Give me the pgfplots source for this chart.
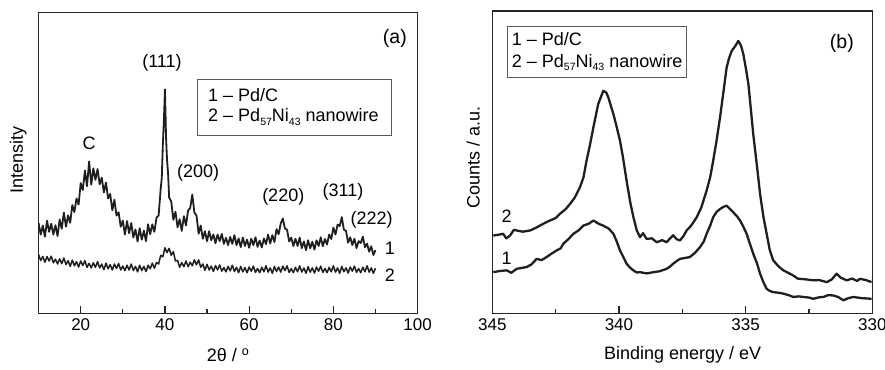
\documentclass[border=0pt]{standalone}
\usepackage{fontspec}
\setmainfont{Liberation Sans}
\usepackage{pgfplots}
\pgfplotsset{compat=1.18}
\newcommand\lab{\fontsize{18}{21}\selectfont}
\newcommand\tck{\fontsize{17}{20}\selectfont}
\newcommand\pan{\fontsize{19.5}{22}\selectfont}
\newcommand\sub[1]{\raisebox{-3.2pt}{\fontsize{10.5}{11}\selectfont #1}}
\pgfplotsset{
  panel/.style={
    scale only axis, anchor=south west,
    axis line style={line width=1.5pt, black!85},
    xtick pos=bottom, ytick=\empty, tick align=inside,
    major tick length=7pt, minor tick length=4.5pt,
    tick style={line width=1.3pt, black!85},
    minor x tick num=1, ymin=0, ymax=100,
    /pgf/number format/assume math mode=true,
    xticklabel style={font=\tck, yshift=-2pt},
    label style={font=\lab},
  }
}
\begin{document}
\begin{tikzpicture}
\path[use as bounding box] (0,0) rectangle (885pt,369pt);
% ---------------- (a) XRD
\begin{axis}[panel, at={(38.6pt,55.7pt)}, width=379pt, height=300.6pt,
  xmin=10, xmax=100, xtick={20,40,60,80,100},
  xlabel={2θ / \textsuperscript{o}}, ylabel={Intensity},
  xlabel style={at={(axis description cs:0.5,-0.139)}, anchor=center},
  ylabel style={at={(axis description cs:-0.0535,0.51)}, anchor=center}]
\addplot[black!88, line width=1.8pt, line join=round] table {
10.0 30.0
10.5 26.2
11.0 29.2
11.5 25.5
12.0 30.8
12.5 27.1
13.0 29.8
13.5 26.2
14.0 29.3
14.5 25.7
15.0 31.2
15.5 28.1
16.0 33.5
16.5 28.8
17.0 32.6
17.5 30.1
18.0 36.0
18.5 33.7
19.0 38.2
19.5 36.2
20.0 43.3
20.5 41.0
21.0 47.5
21.5 42.3
22.0 50.5
22.5 42.8
23.0 48.2
23.5 44.4
24.0 48.0
24.5 42.9
25.0 45.1
25.5 40.2
26.0 43.5
26.5 38.2
27.0 39.7
27.5 34.3
28.0 37.8
28.5 32.5
29.0 33.6
29.5 28.8
30.0 30.8
30.5 26.2
31.0 30.7
31.5 26.6
32.0 30.0
32.5 25.2
33.0 27.9
33.5 23.9
34.0 28.3
34.5 24.5
35.0 27.5
35.5 24.0
36.0 29.6
36.5 26.3
37.0 29.6
37.5 27.1
38.0 31.8
38.5 32.5
39.0 41.5
39.25 45
39.5 56
39.75 64
40.0 74.5
40.15 66
40.25 59
40.5 51
40.75 46.5
41.0 38.5
41.5 37.2
42.0 31.1
42.5 33.8
43.0 28.6
43.5 31.3
44.0 27.4
44.5 32.3
45.0 29.2
45.5 34.2
46.0 35.0
46.5 39.5
47.0 33.5
47.5 32.5
48.0 26.5
48.5 29.2
49.0 24.8
49.5 27.3
50.0 24.0
50.5 27.3
51.0 24.3
51.5 26.2
52.0 23.3
52.5 26.2
53.0 24.0
53.5 26.4
54.0 23.1
54.5 25.1
55.0 22.7
55.5 25.4
56.0 23.1
56.5 26.0
57.0 22.7
57.5 24.9
58.0 22.0
58.5 25.2
59.0 22.4
59.5 24.5
60.0 21.8
60.5 24.8
61.0 22.7
61.5 25.3
62.0 22.1
62.5 24.2
63.0 21.9
63.5 24.9
64.0 23.0
64.5 26.2
65.0 23.2
65.5 26.0
66.0 23.7
66.5 28.0
67.0 26.3
67.5 29.9
68.0 31.5
68.5 28.2
69.0 27.8
69.5 23.9
70.0 25.2
70.5 22.4
71.0 24.8
71.5 22.4
72.0 25.2
72.5 21.7
73.0 23.9
73.5 21.0
74.0 24.3
74.5 21.6
75.0 23.8
75.5 21.2
76.0 24.3
76.5 22.4
77.0 25.3
77.5 22.3
78.0 24.7
78.5 22.9
79.0 26.2
79.5 24.7
80.0 28.5
80.5 26.2
81.0 29.5
81.5 29.0
82.0 32.0
82.5 27.8
83.0 27.4
83.5 23.5
84.0 25.3
84.5 22.7
85.0 24.8
85.5 21.7
86.0 24.0
86.5 23.4
87.0 25.5
87.5 22.0
88.0 23.2
88.5 20.5
89.0 22.3
89.5 19.4
90.0 21.0
};
\addplot[black!88, line width=1.5pt, line join=round] table {
10.0 19.5
10.5 17.6
11.0 18.9
11.5 17.0
12.0 18.9
12.5 17.4
13.0 19.0
13.5 16.8
14.0 18.0
14.5 16.4
15.0 18.1
15.5 16.5
16.0 18.4
16.5 16.2
17.0 17.5
17.5 15.6
18.0 17.7
18.5 15.8
19.0 17.2
19.5 15.4
20.0 17.4
20.5 15.9
21.0 17.5
21.5 15.3
22.0 16.6
22.5 15.1
23.0 16.8
23.5 15.3
24.0 17.2
24.5 15.1
25.0 16.4
25.5 14.5
26.0 16.7
26.5 14.8
27.0 16.2
27.5 14.4
28.0 16.4
28.5 14.9
29.0 16.6
29.5 14.4
30.0 15.7
30.5 14.2
31.0 16.0
31.5 14.4
32.0 16.4
32.5 14.2
33.0 15.6
33.5 13.8
34.0 16.0
34.5 14.2
35.0 15.6
35.5 13.9
36.0 16.0
36.5 14.8
37.0 16.7
37.5 15.0
38.0 16.9
38.5 16.4
39.0 19.3
39.5 18.8
40.0 21.8
40.5 20.2
41.0 21.6
41.5 19.3
42.0 20.5
42.5 17.4
43.0 17.6
43.5 15.3
44.0 16.9
44.5 15.5
45.0 17.4
45.5 15.5
46.0 17.0
46.5 15.8
47.0 17.8
47.5 16.1
48.0 17.8
48.5 15.3
49.0 16.4
49.5 14.3
50.0 16.3
50.5 14.4
51.0 15.7
51.5 13.9
52.0 15.9
52.5 14.4
53.0 16.1
53.5 14.0
54.0 15.2
54.5 13.8
55.0 15.6
55.5 14.1
56.0 16.0
56.5 13.9
57.0 15.3
57.5 13.5
58.0 15.6
58.5 13.8
59.0 15.2
59.5 13.5
60.0 15.4
60.5 14.0
61.0 15.7
61.5 13.6
62.0 14.9
62.5 13.5
63.0 15.3
63.5 13.8
64.0 15.8
64.5 13.7
65.0 15.1
65.5 13.3
66.0 15.6
66.5 13.9
67.0 15.4
67.5 13.7
68.0 15.7
68.5 14.2
69.0 15.8
69.5 13.6
70.0 14.9
70.5 13.5
71.0 15.3
71.5 13.8
72.0 15.8
72.5 13.7
73.0 15.1
73.5 13.3
74.0 15.5
74.5 13.7
75.0 15.1
75.5 13.4
76.0 15.4
76.5 14.0
77.0 15.7
77.5 13.6
78.0 14.9
78.5 13.5
79.0 15.3
79.5 13.8
80.0 15.8
80.5 13.7
81.0 15.1
81.5 13.3
82.0 15.6
82.5 13.8
83.0 15.1
83.5 13.4
84.0 15.4
84.5 14.0
85.0 15.7
85.5 13.6
86.0 14.9
86.5 13.5
87.0 15.3
87.5 13.8
88.0 15.8
88.5 13.7
89.0 15.1
89.5 13.3
90.0 15.0
};
\node[font=\lab] at (axis cs:22.0,56.5) {C};
\node[font=\lab] at (axis cs:39.3,83.3) {(111)};
\node[font=\lab] at (axis cs:47.9,46.6) {(200)};
\node[font=\lab] at (axis cs:68.1,38.7) {(220)};
\node[font=\lab] at (axis cs:82.3,40.4) {(311)};
\node[font=\lab] at (axis cs:89.1,31.0) {(222)};
\node[font=\lab] at (axis cs:93.4,21.6) {1};
\node[font=\lab] at (axis cs:93.4,12.7) {2};
\node[font=\pan] at (axis cs:94.6,91.5) {(a)};
\draw[black!65, line width=1pt] (rel axis cs:0.418,0.590) rectangle (rel axis cs:0.930,0.779);
\node[font=\lab, anchor=base west, inner sep=0pt] at (rel axis cs:0.447,0.704) {1 – Pd/C};
\node[font=\lab, anchor=base west, inner sep=0pt] at (rel axis cs:0.447,0.637) {2 – Pd\sub{57}Ni\sub{43} nanowire};
\end{axis}
% ---------------- (b) XPS
\begin{axis}[panel, at={(492.3pt,55.7pt)}, width=380pt, height=302.3pt,
  x dir=reverse, xmin=330, xmax=345, xtick={330,335,340,345},
  xlabel={Binding energy / eV}, ylabel={Counts / a.u.},
  xlabel style={at={(axis description cs:0.501,-0.138)}, anchor=center},
  ylabel style={at={(axis description cs:-0.05,0.514)}, anchor=center}]
\addplot[black!88, line width=2.3pt, line join=round] table {
344.96 25.7
344.75 26.0
344.57 26.3
344.45 24.8
344.30 25.7
344.15 27.6
344.04 27.4
343.80 27.0
343.51 27.4
343.30 28.2
343.12 29.0
342.90 30.0
342.72 30.7
342.50 31.5
342.33 32.9
342.10 34.5
341.93 36.2
341.75 38.2
341.54 41.7
341.40 45.0
341.28 50.5
341.15 55.5
341.01 61.5
340.82 69.2
340.62 73.6
340.50 73.0
340.42 71.4
340.22 65.9
340.10 62.0
339.96 57.1
339.85 52.0
339.70 43.9
339.55 36.5
339.43 31.8
339.30 27.5
339.17 25.2
339.05 26.5
338.91 24.6
338.70 24.8
338.51 23.5
338.30 24.2
338.12 23.5
337.98 24.8
337.86 25.8
337.72 24.5
337.59 24.1
337.45 25.6
337.33 27.4
337.15 29.0
336.93 31.8
336.75 35.0
336.54 40.6
336.40 45.0
336.28 50.5
336.15 57.0
336.01 64.8
335.88 73.0
335.75 81.3
335.65 84.5
335.55 86.8
335.40 88.5
335.29 90.1
335.18 88.5
335.09 85.7
334.99 81.0
334.89 75.8
334.80 68.0
334.70 59.3
334.55 48.5
334.43 39.5
334.30 32.0
334.17 26.3
334.05 21.0
333.91 17.5
333.70 15.5
333.51 14.2
333.30 13.3
333.12 12.5
332.95 11.5
332.86 11.4
332.60 11.2
332.33 10.9
332.10 11.0
331.80 10.3
331.60 11.2
331.41 13.1
331.25 11.8
331.01 10.9
330.80 11.5
330.60 10.7
330.49 11.4
330.25 11.0
330.03 10.3
};
\addplot[black!88, line width=2.3pt, line join=round] table {
344.96 13.6
344.70 14.0
344.43 14.2
344.25 13.4
344.04 14.7
343.85 15.0
343.64 15.3
343.45 16.2
343.25 18.0
343.05 17.6
342.86 18.6
342.65 19.8
342.46 20.8
342.30 21.5
342.20 23.0
342.00 24.5
341.80 26.3
341.60 27.4
341.41 29.0
341.20 29.6
341.01 30.7
340.80 29.6
340.62 29.0
340.40 28.0
340.22 26.3
340.10 24.0
339.96 20.8
339.82 18.5
339.70 16.4
339.55 15.0
339.43 14.2
339.30 13.5
339.17 13.6
338.90 13.2
338.64 13.6
338.40 13.9
338.12 14.7
337.98 15.5
337.86 16.4
337.72 17.3
337.59 18.0
337.40 18.3
337.20 18.6
337.00 20.0
336.80 21.9
336.65 23.8
336.54 26.3
336.40 29.0
336.28 31.8
336.15 33.5
336.01 34.5
335.88 35.2
335.75 35.6
335.62 34.5
335.49 33.4
335.35 32.2
335.22 30.7
335.10 28.8
334.96 26.3
334.83 23.0
334.70 19.7
334.55 16.5
334.43 13.1
334.30 10.3
334.17 8.1
334.05 7.4
333.91 7.0
333.70 6.8
333.51 6.5
333.30 6.0
333.12 5.4
332.90 5.6
332.72 5.4
332.50 5.2
332.33 4.8
332.10 5.3
331.93 5.4
331.75 6.0
331.54 5.9
331.35 5.4
331.14 4.3
330.95 5.0
330.75 5.4
330.40 5.0
330.03 4.8
};
\node[font=\lab] at (axis cs:344.43,32.0) {2};
\node[font=\lab] at (axis cs:344.43,18.2) {1};
\node[font=\pan] at (axis cs:331.2,89.3) {(b)};
\draw[black!65, line width=1pt] (rel axis cs:0.0405,0.781) rectangle (rel axis cs:0.5116,0.950);
\node[font=\lab, anchor=base west, inner sep=0pt] at (rel axis cs:0.051,0.8875) {1 – Pd/C};
\node[font=\lab, anchor=base west, inner sep=0pt] at (rel axis cs:0.051,0.8125) {2 – Pd\sub{57}Ni\sub{43} nanowire};
\end{axis}
\end{tikzpicture}
\end{document}
